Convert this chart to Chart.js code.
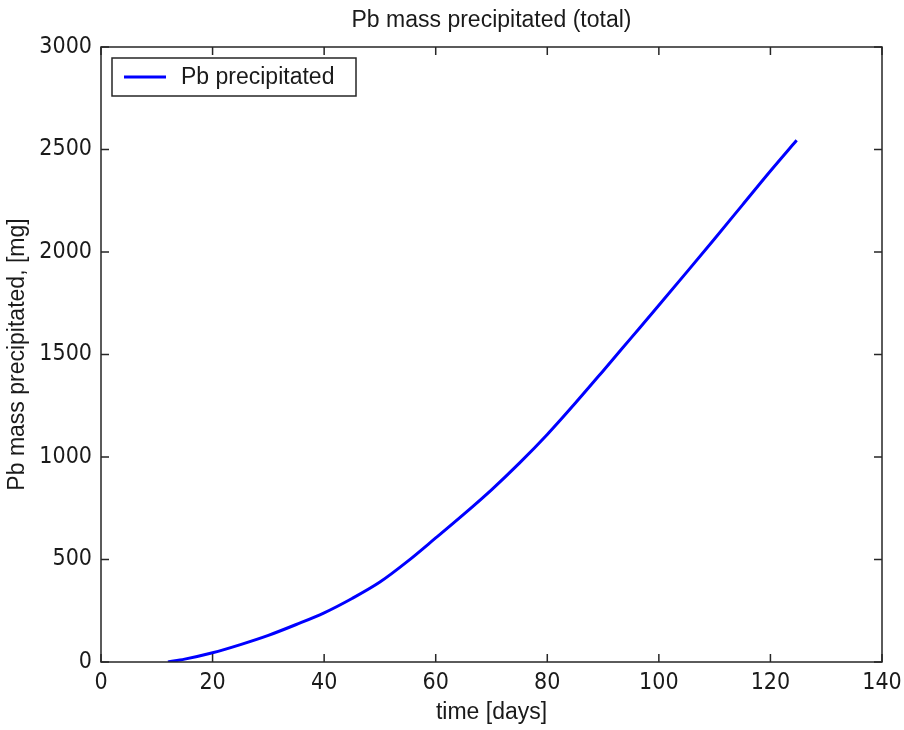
<!DOCTYPE html>
<html>
<head>
<meta charset="utf-8">
<script src="https://cdn.jsdelivr.net/npm/chart.js@4/dist/chart.umd.min.js"></script>
<style>
  body { margin: 0; background: #fff; }
  #wrap { width: 904px; height: 730px; }
</style>
</head>
<body>
<div id="wrap"><canvas id="myChart" width="904" height="730"></canvas></div>
<script>
// values
var days = [12, 15, 20, 25, 30, 35, 40, 45, 50, 55, 60, 65, 70, 75, 80, 85, 90, 95, 100, 105, 110, 115, 120, 124.7];
var pbMass = [0, 14, 45, 85, 130, 183, 240, 310, 390, 492, 605, 720, 840, 970, 1110, 1262, 1420, 1580, 1740, 1902, 2065, 2230, 2395, 2545];
var seriesName = "Pb precipitated";
var chartTitle = "Pb mass precipitated (total)";
var xTicks = [0, 20, 40, 60, 80, 100, 120, 140];
var yTicks = [0, 500, 1000, 1500, 2000, 2500, 3000];

var textFont = '"Liberation Sans", Arial, sans-serif';
var tickFont = '"Liberation Sans Narrow", "DejaVu Sans Condensed", "Liberation Sans", sans-serif';
var axisColor = "#262626";
var textColor = "#1a1a1a";

var points = [];
for (var i = 0; i < days.length; i++) {
    points.push({ x: days[i], y: pbMass[i] });
}

// matlab style box with inward ticks on all four sides, title over the axes, boxed legend
var framePlugin = {
    id: "frame",
    afterDatasetsDraw: function (chart) {
        var ctx = chart.ctx;
        var a = chart.chartArea;
        var xs = chart.scales.x;
        var ys = chart.scales.y;
        var len = 8;
        ctx.save();
        ctx.strokeStyle = axisColor;
        ctx.lineWidth = 1.5;
        ctx.strokeRect(a.left, a.top, a.right - a.left, a.bottom - a.top);
        ctx.beginPath();
        xTicks.forEach(function (v) {
            var px = xs.getPixelForValue(v);
            ctx.moveTo(px, a.bottom); ctx.lineTo(px, a.bottom - len);
            ctx.moveTo(px, a.top); ctx.lineTo(px, a.top + len);
        });
        yTicks.forEach(function (v) {
            var py = ys.getPixelForValue(v);
            ctx.moveTo(a.left, py); ctx.lineTo(a.left + len, py);
            ctx.moveTo(a.right, py); ctx.lineTo(a.right - len, py);
        });
        ctx.stroke();

        // title, centred over the axes
        ctx.fillStyle = textColor;
        ctx.font = "23px " + textFont;
        ctx.textAlign = "center";
        ctx.textBaseline = "middle";
        ctx.fillText(chartTitle, (a.left + a.right) / 2, 21);

        // legend box
        var ds = chart.data.datasets[0];
        var bx = a.left + 11, by = a.top + 11, bw = 244, bh = 38;
        ctx.fillStyle = "#fff";
        ctx.fillRect(bx, by, bw, bh);
        ctx.lineWidth = 1.5;
        ctx.strokeStyle = axisColor;
        ctx.strokeRect(bx, by, bw, bh);
        ctx.beginPath();
        ctx.strokeStyle = ds.borderColor;
        ctx.lineWidth = 3;
        ctx.moveTo(bx + 12, by + bh / 2);
        ctx.lineTo(bx + 54, by + bh / 2);
        ctx.stroke();
        ctx.fillStyle = textColor;
        ctx.textAlign = "left";
        ctx.fillText(ds.label, bx + 69, by + bh / 2 + 1);
        ctx.restore();
    }
};

function plainLabel(v) {
    return String(v);
}

new Chart("myChart", {
    type: "line",
    data: {
        datasets: [{
            label: seriesName,
            data: points,
            borderColor: "#0000ff",
            borderWidth: 3,
            pointRadius: 0,
            fill: false,
            cubicInterpolationMode: "monotone"
        }]
    },
    options: {
        responsive: false,
        animation: false,
        layout: { padding: { left: 0, right: 22, top: 47, bottom: 0 } },
        plugins: {
            legend: { display: false },
            tooltip: { enabled: false },
            title: { display: false }
        },
        scales: {
            x: {
                type: "linear",
                min: 0,
                max: 140,
                afterFit: function (s) {
                    s.height = 68;
                    s.paddingLeft = 0;
                    s.paddingRight = 0;
                },
                afterBuildTicks: function (s) {
                    s.ticks = xTicks.map(function (v) { return { value: v }; });
                },
                grid: { display: false, drawTicks: false },
                border: { display: false },
                ticks: {
                    color: textColor,
                    padding: 7,
                    maxRotation: 0,
                    callback: plainLabel,
                    font: { family: tickFont, size: 23 }
                },
                title: {
                    display: true,
                    text: "time [days]",
                    color: textColor,
                    font: { family: textFont, size: 23 },
                    padding: { top: 0, bottom: 4 }
                }
            },
            y: {
                type: "linear",
                min: 0,
                max: 3000,
                afterFit: function (s) {
                    s.width = 101;
                    s.paddingTop = 0;
                    s.paddingBottom = 0;
                },
                afterBuildTicks: function (s) {
                    s.ticks = yTicks.map(function (v) { return { value: v }; });
                },
                grid: { display: false, drawTicks: false },
                border: { display: false },
                ticks: {
                    color: textColor,
                    padding: 9,
                    callback: plainLabel,
                    font: { family: tickFont, size: 23 }
                },
                title: {
                    display: true,
                    text: "Pb mass precipitated, [mg]",
                    color: textColor,
                    font: { family: textFont, size: 23 },
                    padding: { top: 4, bottom: 0 }
                }
            }
        }
    },
    plugins: [framePlugin]
});
</script>
</body>
</html>
